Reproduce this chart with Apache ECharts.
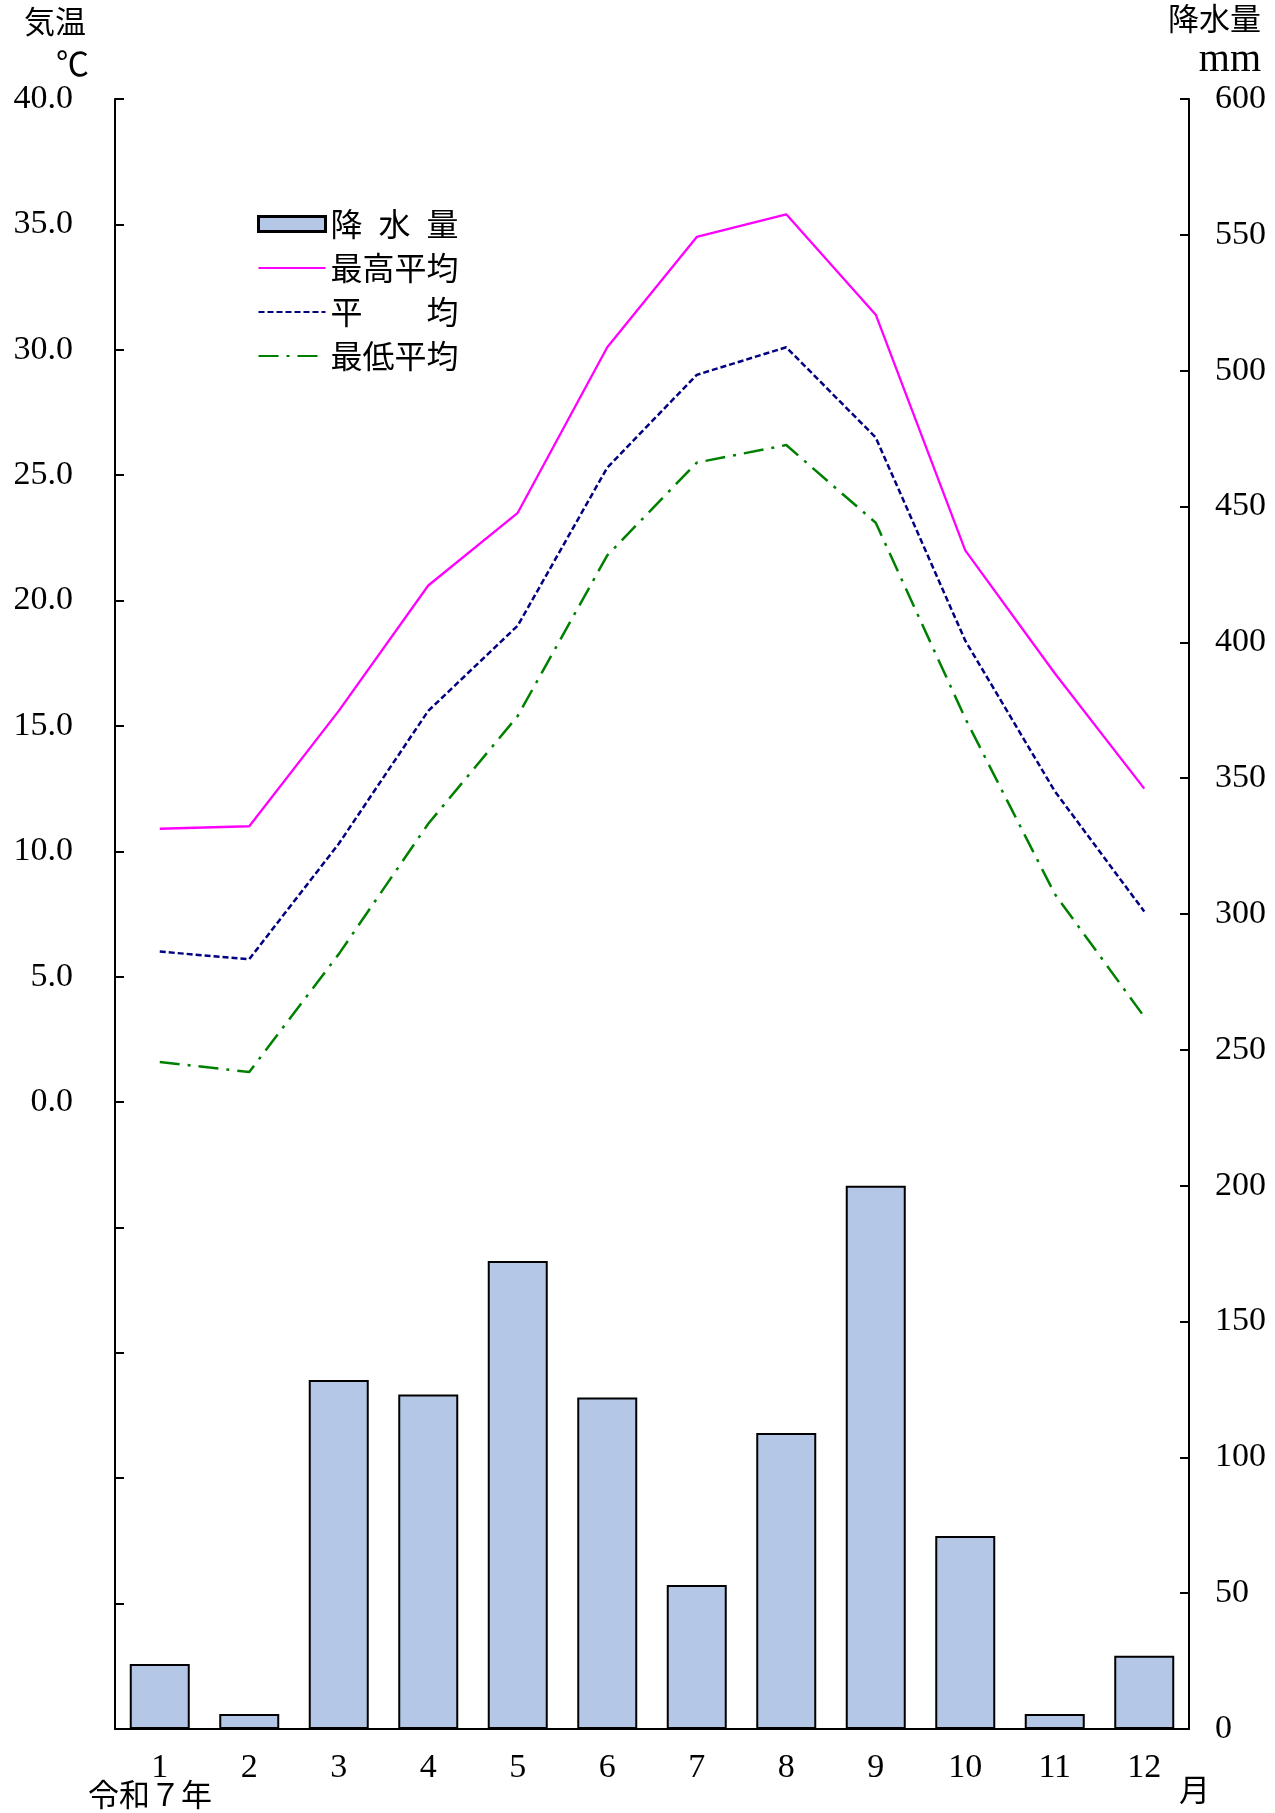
<!DOCTYPE html>
<html>
<head>
<meta charset="utf-8">
<script src="https://cdn.jsdelivr.net/npm/echarts@6/dist/echarts.min.js"></script>
<style>
html,body{margin:0;padding:0;background:#fff;}
#chart{width:1275px;height:1813px;}
</style>
</head>
<body>
<div id="chart"></div>
<script>
const months = ['1','2','3','4','5','6','7','8','9','10','11','12'];
const precipitation = [23.9, 5.5, 128.5, 123.1, 172.3, 122.0, 53.0, 109.0, 200.0, 71.0, 5.5, 27.0];
const tempMax = [10.9, 11.0, 15.6, 20.6, 23.5, 30.1, 34.5, 35.4, 31.4, 22.0, 17.1, 12.5];
const tempMean = [6.0, 5.7, 10.3, 15.6, 19.0, 25.3, 29.0, 30.1, 26.5, 18.4, 12.4, 7.6];
const tempMin = [1.6, 1.2, 5.9, 11.1, 15.4, 21.8, 25.5, 26.2, 23.1, 15.3, 8.3, 3.4];
const legendNames = {'降水量':'降\u2002水\u2002量','最高平均':'最高平均','平均':'平\u3000\u3000均','最低平均':'最低平均'};

const serif = '"Liberation Serif", "DejaVu Serif", serif';
const jp = '"Noto Sans CJK JP", sans-serif';

const chart = echarts.init(document.getElementById('chart'), null, {renderer:'canvas'});
chart.setOption({
  backgroundColor:'#ffffff',
  animation:false,
  grid:{left:115, right:86, top:99, bottom:84},
  legend:{
    orient:'vertical', left:252, top:203, itemWidth:67, itemHeight:15, itemGap:12,
    data:[
      {name:'降水量', icon:'rect', itemStyle:{borderWidth:3}},
      {name:'最高平均', itemStyle:{opacity:0}},
      {name:'平均', itemStyle:{opacity:0}},
      {name:'最低平均', itemStyle:{opacity:0}}
    ],
    formatter:n=>legendNames[n],
    textStyle:{fontFamily:jp, fontSize:32, color:'#000', padding:[0,0,0,0]}
  },
  xAxis:{
    type:'category', data:months,
    axisLine:{onZero:false, lineStyle:{color:'#000', width:2}},
    axisTick:{show:false},
    axisLabel:{fontFamily:serif, fontSize:34, color:'#000', margin:22}
  },
  yAxis:[
    {type:'value', min:-25, max:40, interval:5, position:'left',
     splitLine:{show:false},
     axisLine:{show:true, lineStyle:{color:'#000', width:2}},
     axisTick:{show:true, inside:true, length:9, lineStyle:{color:'#000', width:2}},
     axisLabel:{fontFamily:serif, fontSize:34, color:'#000', margin:42,
       formatter:v=> v>=0 ? v.toFixed(1) : ''}
    },
    {type:'value', min:0, max:600, interval:50, position:'right',
     splitLine:{show:false},
     axisLine:{show:true, lineStyle:{color:'#000', width:2}},
     axisTick:{show:true, inside:true, length:9, lineStyle:{color:'#000', width:2}},
     axisLabel:{fontFamily:serif, fontSize:34, color:'#000', margin:26}
    }
  ],
  series:[
    {name:'降水量', type:'bar', yAxisIndex:1, data:precipitation, barWidth:60,
     itemStyle:{color:'#b4c7e7', borderColor:'#000', borderWidth:2}, z:1},
    {name:'最高平均', type:'line', yAxisIndex:0, data:tempMax, symbol:'none',
     lineStyle:{color:'#ff00ff', width:2.3, type:'solid'}, itemStyle:{color:'#ff00ff'}, z:3},
    {name:'平均', type:'line', yAxisIndex:0, data:tempMean, symbol:'none',
     lineStyle:{color:'#000080', width:2.5, type:[6,3]}, itemStyle:{color:'#000080'}, z:3},
    {name:'最低平均', type:'line', yAxisIndex:0, data:tempMin, symbol:'none',
     lineStyle:{color:'#008000', width:2.5, type:[20,8,3,8]}, itemStyle:{color:'#008000'}, z:3}
  ],
  graphic:[
    {type:'text', left:24, top:6, style:{text:'気温', font:'31px '+jp, fill:'#000'}},
    {type:'text', left:56, top:47, style:{text:'℃', font:'33px '+jp, fill:'#000'}},
    {type:'text', right:14, top:3, style:{text:'降水量', font:'31px '+jp, fill:'#000'}},
    {type:'text', right:14, top:40, style:{text:'mm', font:'40px '+serif, fill:'#000'}},
    {type:'text', left:88, top:1779, style:{text:'令和７年', font:'31px '+jp, fill:'#000'}},
    {type:'text', left:1179, top:1774, style:{text:'月', font:'31px '+jp, fill:'#000'}}
  ]
});
</script>
</body>
</html>
